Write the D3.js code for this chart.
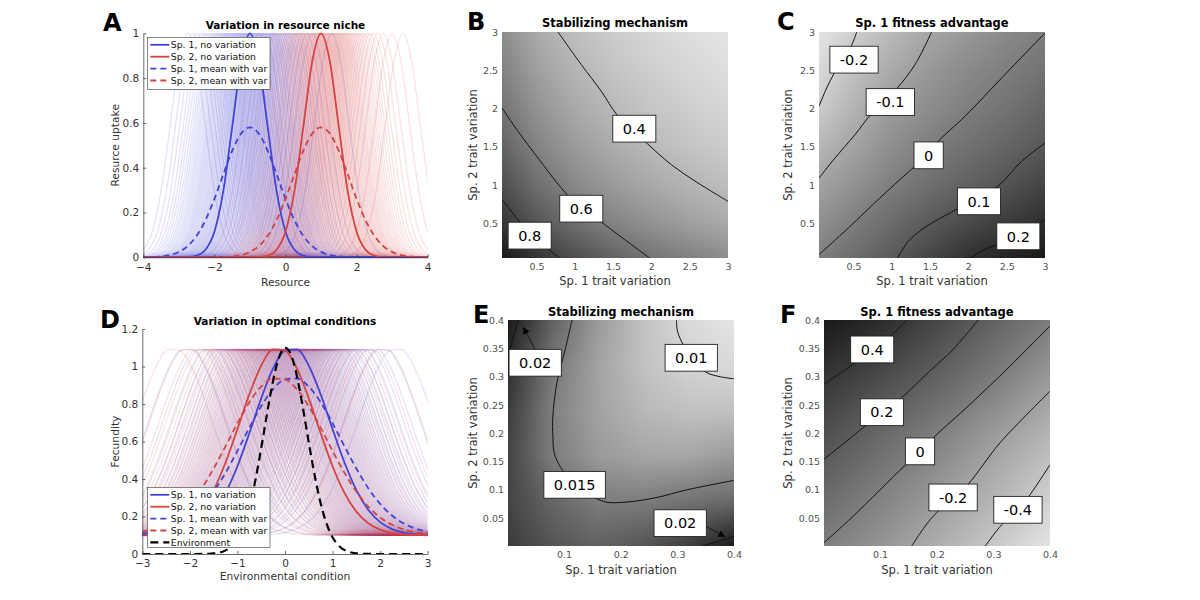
<!DOCTYPE html>
<html>
<head>
<meta charset="utf-8">
<script src="https://cdnjs.cloudflare.com/ajax/libs/d3/7.8.5/d3.min.js"></script>
<style>
  body { margin: 0; background: #fff; }
  svg text { font-family: "DejaVu Sans", sans-serif; }
</style>
</head>
<body>
<script>
// ---- Panel A: variation in resource niche ----
const resourceX = [-4,-3.75,-3.5,-3.25,-3,-2.75,-2.5,-2.25,-2,-1.75,-1.5,-1.25,-1,-0.75,-0.5,-0.25,0,0.25,0.5,0.75,1,1.25,1.5,1.75,2,2.25,2.5,2.75,3,3.25,3.5,3.75,4];
const sp1NoVar = [0,0,0,0,0.0002,0.0013,0.0076,0.0337,0.114,0.295,0.581,0.873,1,0.873,0.581,0.295,0.114,0.0337,0.0076,0.0013,0.0002,0,0,0,0,0,0,0,0,0,0,0,0];
const sp2NoVar = [0,0,0,0,0,0,0,0,0,0,0,0,0.0002,0.0013,0.0076,0.0337,0.114,0.295,0.581,0.873,1,0.873,0.581,0.295,0.114,0.0337,0.0076,0.0013,0.0002,0,0,0,0];
const sp1MeanVar = [0.0004,0.0013,0.004,0.010,0.024,0.050,0.096,0.166,0.261,0.370,0.475,0.552,0.58,0.552,0.475,0.370,0.261,0.166,0.096,0.050,0.024,0.010,0.004,0.0013,0.0004,0,0,0,0,0,0,0,0];
const sp2MeanVar = [0,0,0,0,0,0,0,0,0.0004,0.0013,0.004,0.010,0.024,0.050,0.096,0.166,0.261,0.370,0.475,0.552,0.58,0.552,0.475,0.370,0.261,0.166,0.096,0.050,0.024,0.010,0.004,0.0013,0.0004];
// shifts of individual niche centres around each species' mean
const nicheOffsets = [-1.75,-1.6,-1.48,-1.38,-1.3,-1.23,-1.16,-1.1,-1.05,-1.0,-0.95,-0.91,-0.87,-0.83,-0.79,-0.75,-0.72,-0.69,-0.66,-0.63,-0.6,-0.57,-0.54,-0.51,-0.48,-0.45,-0.42,-0.4,-0.37,-0.34,-0.32,-0.29,-0.27,-0.24,-0.22,-0.19,-0.17,-0.14,-0.12,-0.1,-0.07,-0.05,-0.02,
  0,0.02,0.05,0.07,0.1,0.12,0.14,0.17,0.19,0.22,0.24,0.27,0.29,0.32,0.34,0.37,0.4,0.42,0.45,0.48,0.51,0.54,0.57,0.6,0.63,0.66,0.69,0.72,0.75,0.79,0.83,0.87,0.91,0.95,1.0,1.05,1.1,1.16,1.23,1.3,1.38,1.48,1.6,1.75,2.0,2.3];

// ---- Panel D: variation in optimal conditions ----
const condX = [-3,-2.75,-2.5,-2.25,-2,-1.75,-1.5,-1.25,-1,-0.75,-0.5,-0.25,0,0.25,0.5,0.75,1,1.25,1.5,1.75,2,2.25,2.5,2.75,3];
const dSp1NoVar = [0.100,0.102,0.105,0.112,0.130,0.164,0.226,0.326,0.468,0.644,0.830,0.990,1.085,1.091,1.005,0.851,0.666,0.488,0.341,0.236,0.170,0.133,0.114,0.105,0.102];
const dSp2NoVar = [0.102,0.105,0.114,0.133,0.170,0.236,0.341,0.488,0.666,0.851,1.005,1.091,1.085,0.990,0.830,0.644,0.468,0.326,0.226,0.164,0.130,0.112,0.105,0.102,0.100];
const dSp1MeanVar = [0.108,0.116,0.131,0.156,0.195,0.253,0.333,0.433,0.550,0.673,0.788,0.879,0.931,0.936,0.893,0.809,0.697,0.575,0.456,0.351,0.267,0.205,0.162,0.135,0.118];
const dSp2MeanVar = [0.118,0.135,0.162,0.205,0.267,0.351,0.456,0.575,0.697,0.809,0.893,0.936,0.931,0.879,0.788,0.673,0.550,0.433,0.333,0.253,0.195,0.156,0.131,0.116,0.108];
const envX = [-3,-2.5,-2,-1.6,-1.5,-1.4,-1.3,-1.2,-1.1,-1.0,-0.9,-0.8,-0.7,-0.6,-0.5,-0.4,-0.3,-0.2,-0.1,0,0.1,0.2,0.3,0.4,0.5,0.6,0.7,0.8,0.9,1.0,1.1,1.2,1.3,1.4,1.5,1.6,2,2.5,3];
const envValues = [0,0,0,0.0014,0.0032,0.0067,0.0135,0.0258,0.0467,0.080,0.132,0.205,0.302,0.424,0.565,0.715,0.860,0.982,1.066,1.100,1.077,1.003,0.887,0.745,0.594,0.451,0.325,0.222,0.144,0.089,0.052,0.029,0.0154,0.0078,0.0037,0.0017,0,0,0];
const optimumOffsets = [-2.2,-1.9,-1.7,-1.55,-1.45,-1.35,-1.27,-1.2,-1.13,-1.07,-1.01,-0.96,-0.91,-0.86,-0.82,-0.78,-0.74,-0.7,-0.66,-0.62,-0.59,-0.55,-0.52,-0.48,-0.45,-0.42,-0.39,-0.36,-0.33,-0.3,-0.27,-0.24,-0.21,-0.18,-0.15,-0.12,-0.09,-0.06,-0.03,
  0,0.03,0.06,0.09,0.12,0.15,0.18,0.21,0.24,0.27,0.3,0.33,0.36,0.39,0.42,0.45,0.48,0.52,0.55,0.59,0.62,0.66,0.7,0.74,0.78,0.82,0.86,0.91,0.96,1.01,1.07,1.13,1.2,1.27,1.35,1.45,1.55,1.7,1.9,2.2];

// ---- Panel B: stabilizing mechanism (niche) ----
const bGridX = [0.05,0.5,1,1.5,2,2.5,3];
const bGridZ = [
  [0.972,0.862,0.766,0.689,0.626,0.574,0.530],
  [0.862,0.743,0.645,0.569,0.509,0.461,0.421],
  [0.766,0.645,0.548,0.477,0.422,0.378,0.343],
  [0.689,0.569,0.477,0.410,0.360,0.321,0.289],
  [0.626,0.509,0.422,0.360,0.314,0.278,0.250],
  [0.574,0.461,0.378,0.321,0.278,0.246,0.220],
  [0.530,0.421,0.343,0.289,0.250,0.220,0.197]
];
const bLevels = ["0.4","0.6","0.8"];
const bLines = [
  [[0.781,3],[1.085,2.574],[1.346,2.226],[1.55,1.92],[1.75,1.73],[1.95,1.54],[2.26,1.268],[2.608,1.029],[3,0.79]],
  [[0.05,2.008],[0.259,1.703],[0.52,1.355],[0.824,0.963],[1.085,0.694],[1.346,0.52],[1.564,0.355],[1.977,0.05]],
  [[0.05,0.812],[0.259,0.551],[0.40,0.37],[0.607,0.203],[0.803,0.05]]
];
const bLabelPos = [[1.777,1.738],[1.085,0.694],[0.411,0.342]];

// ---- Panel C: sp. 1 fitness advantage (niche) ----
const cGridX = [0.05,0.5,1,1.5,2,2.5,3];
const cGridZ = [
  [0,0.045,0.092,0.145,0.198,0.23,0.26],
  [-0.045,0,0.05,0.095,0.135,0.17,0.205],
  [-0.092,-0.05,0,0.04,0.075,0.11,0.15],
  [-0.145,-0.095,-0.04,0,0.035,0.065,0.10],
  [-0.198,-0.135,-0.075,-0.035,0,0.03,0.065],
  [-0.23,-0.17,-0.11,-0.065,-0.03,0,0.03],
  [-0.26,-0.205,-0.15,-0.10,-0.065,-0.03,0]
];
const cLevels = ["-0.2","-0.1","0","0.1","0.2"];
const cLines = [
  [[0.05,2.03],[0.15,2.269],[0.25,2.465],[0.346,2.639],[0.468,2.813],[0.542,3]],
  [[0.05,1.094],[0.259,1.355],[0.52,1.66],[0.716,1.912],[0.89,2.086],[1.064,2.26],[1.303,2.574],[1.52,3]],
  [[0.05,0.094],[0.433,0.442],[0.868,0.855],[1.303,1.247],[1.481,1.39],[1.586,1.551],[1.956,1.9],[2.434,2.4],[3,2.987]],
  [[1.077,0.05],[1.216,0.268],[1.434,0.45],[1.80,0.66],[2.138,0.84],[2.4,1.0],[2.695,1.312],[3,1.551]],
  [[2.021,0.05],[2.26,0.181],[2.652,0.333],[3,0.55]]
];
const cLabelPos = [[0.507,2.639],[0.981,2.086],[1.481,1.39],[2.138,0.79],[2.652,0.333]];

// ---- Panel E: stabilizing mechanism (optimum) ----
const eGridX = [0,0.08,0.16,0.24,0.32,0.4];
const eGridZ = [
  [0.019,0.0175,0.0168,0.0175,0.0188,0.021],
  [0.0185,0.0165,0.0152,0.0152,0.0158,0.0163],
  [0.0185,0.0152,0.0135,0.0128,0.0128,0.0135],
  [0.019,0.015,0.013,0.0118,0.0112,0.0112],
  [0.0198,0.0155,0.013,0.0112,0.0102,0.0098],
  [0.021,0.0168,0.0135,0.0112,0.0098,0.0092]
];
const eLevels = ["0.015","0.01","0.02","0.02"];
const eLines = [
  [[0.114,0.4],[0.102,0.348],[0.0873,0.289],[0.0802,0.23],[0.0802,0.195],[0.0844,0.159],[0.1186,0.109],[0.17,0.0796],[0.1994,0.0778],[0.2584,0.0855],[0.3174,0.1003],[0.4,0.1168]],
  [[0.2985,0.4],[0.3009,0.3776],[0.3245,0.3333],[0.3499,0.308],[0.3764,0.2997],[0.4,0.2962]],
  [[0,0.3304],[0.0094,0.3658],[0.0195,0.4]],
  [[0.341,0],[0.4,0.0177]]
];
const eLabelPos = [[0.1186,0.109],[0.3245,0.3333],[0.049,0.3245],[0.305,0.0413]];
const eArrowFrom = [null,null,[0.049,0.348],[0.3457,0.0383]];
const eArrowTo = [null,null,[0.0283,0.3864],[0.3835,0.0177]];

// ---- Panel F: sp. 1 fitness advantage (optimum) ----
const fGridX = [0,0.1,0.2,0.3,0.4];
const fGridZ = [
  [0,-0.13,-0.27,-0.42,-0.58],
  [0.13,0,-0.14,-0.29,-0.45],
  [0.27,0.13,0,-0.16,-0.31],
  [0.42,0.295,0.167,0.02,-0.15],
  [0.58,0.476,0.316,0.16,0.01]
];
const fLevels = ["0.4","0.2","0","-0.2","-0.4"];
const fLines = [
  [[0,0.2861],[0.0519,0.3215],[0.0861,0.348],[0.1215,0.3746],[0.1475,0.4]],
  [[0,0.1534],[0.0696,0.2094],[0.1032,0.2372],[0.1375,0.2625],[0.1876,0.3097],[0.2289,0.3481],[0.2732,0.4]],
  [[0,0.0059],[0.0519,0.0531],[0.1434,0.1428],[0.1705,0.1681],[0.1953,0.1935],[0.2584,0.2507],[0.3233,0.3127],[0.4,0.3894]],
  [[0.1552,0],[0.1906,0.0501],[0.2289,0.0867],[0.2555,0.1103],[0.3115,0.1829],[0.4,0.2743]],
  [[0.285,0],[0.3145,0.0383],[0.3434,0.0649],[0.3646,0.0914],[0.4,0.1445]]
];
const fLabelPos = [[0.0861,0.348],[0.1032,0.2372],[0.1705,0.1681],[0.2289,0.0867],[0.3434,0.0649]];

const legendNames = ["Sp. 1, no variation","Sp. 2, no variation","Sp. 1, mean with var","Sp. 2, mean with var","Environment"];

const blue = "#4343d6";
const red = "#d64343";
const fmt = d3.format("~g");

const svg = d3.select("body").append("svg")
  .attr("width", 1200)
  .attr("height", 600);

const defs = svg.append("defs");
defs.append("marker")
  .attr("id", "arrow")
  .attr("viewBox", "0 0 10 10")
  .attr("refX", 9).attr("refY", 5)
  .attr("markerWidth", 7).attr("markerHeight", 7)
  .attr("markerUnits", "userSpaceOnUse")
  .attr("orient", "auto")
  .append("path")
  .attr("d", "M0,0L10,5L0,10z")
  .attr("fill", "#000");

function addText(g, x, y, str, size, opts = {}) {
  return g.append("text")
    .attr("x", x).attr("y", y)
    .attr("dy", "0.35em")
    .attr("text-anchor", opts.anchor || "middle")
    .attr("font-size", size)
    .attr("font-weight", opts.bold ? "bold" : null)
    .attr("fill", opts.color || "#222")
    .attr("transform", opts.rotate ? `rotate(-90,${x},${y})` : null)
    .text(str);
}

function panelLetter(x, y, str) {
  svg.append("text")
    .attr("x", x).attr("y", y)
    .attr("font-family", "'Liberation Sans', Arial, sans-serif")
    .attr("font-size", 24)
    .attr("font-weight", "bold")
    .attr("fill", "#000")
    .text(str);
}

// ---------- curve panels (A and D) ----------
function curvePanel(p) {
  const x = d3.scaleLinear().domain(p.xDomain).range(p.xRange);
  const y = d3.scaleLinear().domain(p.yDomain).range(p.yRange);
  const g = svg.append("g");

  defs.append("clipPath").attr("id", p.id + "-clip")
    .append("rect")
    .attr("x", p.xRange[0]).attr("y", p.yRange[1] - 2)
    .attr("width", p.xRange[1] - p.xRange[0])
    .attr("height", p.yRange[0] - p.yRange[1] + 2);

  const plot = g.append("g").attr("clip-path", `url(#${p.id}-clip)`);
  const line = d3.line().x(d => x(d[0])).y(d => y(d[1])).curve(d3.curveMonotoneX);
  const pts = (xs, ys) => xs.map((v, i) => [v, ys[i]]);

  // individual variants: the no-variation profile moved to each drawn centre,
  // the two species interleaved so the overlap blends
  const variants = p.offsets.flatMap(off => p.families.map(f => ({ f, off })));
  plot.append("g").selectAll("path")
    .data(variants)
    .join("path")
    .attr("d", d => {
      const a = pts(d.f.xs.map(v => v + d.off), d.f.ys);
      a.unshift([a[0][0] - 4, a[0][1]]);
      a.push([a[a.length - 1][0] + 4, a[a.length - 1][1]]);
      return line(a);
    })
    .attr("fill", "none")
    .attr("stroke", d => d.f.color)
    .attr("stroke-opacity", p.faintOpacity)
    .attr("stroke-width", 1.3);

  p.series.forEach(s => {
    plot.append("path")
      .attr("d", line(pts(s.xs, s.ys)))
      .attr("fill", "none")
      .attr("stroke", s.color)
      .attr("stroke-width", s.width)
      .attr("stroke-dasharray", s.dash);
  });

  const axisColor = "#444";
  const ya = g.append("g")
    .attr("transform", `translate(${p.xRange[0]},0)`)
    .call(d3.axisLeft(y).tickValues(p.yTicks).tickFormat(fmt).tickSizeInner(-3).tickSizeOuter(0).tickPadding(4));
  const xa = g.append("g")
    .attr("transform", `translate(0,${p.yRange[0]})`)
    .call(d3.axisBottom(x).tickValues(p.xTicks).tickFormat(fmt).tickSizeInner(-3).tickSizeOuter(0).tickPadding(6));
  [ya, xa].forEach(a => {
    a.select(".domain").attr("stroke", axisColor).attr("stroke-width", 0.8);
    a.selectAll(".tick line").attr("stroke", axisColor).attr("stroke-width", 0.8);
    a.selectAll(".tick text")
      .attr("font-family", "'DejaVu Sans', sans-serif")
      .attr("font-size", 10.5)
      .attr("fill", "#333");
  });

  const cx = (p.xRange[0] + p.xRange[1]) / 2;
  const cy = (p.yRange[0] + p.yRange[1]) / 2;
  addText(g, cx, p.titleY, p.title, 10.5, { bold: true, color: "#000" });
  addText(g, cx, p.xLabelY, p.xLabel, 10.7, { color: "#333" });
  addText(g, p.yLabelX, cy, p.yLabel, 10.7, { color: "#333", rotate: true });

  // legend
  const lg = g.append("g");
  lg.append("rect")
    .attr("x", p.legend.x).attr("y", p.legend.y)
    .attr("width", p.legend.w).attr("height", p.legend.h)
    .attr("fill", "#fff").attr("stroke", "#333").attr("stroke-width", 0.6);
  p.series.forEach((s, i) => {
    const ly = p.legend.y + 7.5 + i * 11.9;
    lg.append("line")
      .attr("x1", p.legend.x + 3).attr("x2", p.legend.x + 22)
      .attr("y1", ly).attr("y2", ly)
      .attr("stroke", s.color).attr("stroke-width", s.width)
      .attr("stroke-dasharray", s.dash);
    addText(lg, p.legend.x + 23.5, ly, legendNames[i], 9.3, { anchor: "start", color: "#111" });
  });
}

curvePanel({
  id: "pa",
  xDomain: [-4, 4], xRange: [143.3, 427.7],
  yDomain: [0, 1], yRange: [257.3, 33.3],
  xTicks: [-4, -2, 0, 2, 4], yTicks: [0, 0.2, 0.4, 0.6, 0.8, 1],
  faintOpacity: 0.15,
  offsets: nicheOffsets,
  families: [
    { xs: resourceX, ys: sp1NoVar, color: blue },
    { xs: resourceX, ys: sp2NoVar, color: red }
  ],
  series: [
    { xs: resourceX, ys: sp1NoVar, color: blue, width: 1.8, dash: null },
    { xs: resourceX, ys: sp2NoVar, color: red, width: 1.8, dash: null },
    { xs: resourceX, ys: sp1MeanVar, color: blue, width: 1.8, dash: "6,4" },
    { xs: resourceX, ys: sp2MeanVar, color: red, width: 1.8, dash: "6,4" }
  ],
  title: "Variation in resource niche", titleY: 25,
  xLabel: "Resource", xLabelY: 282.7,
  yLabel: "Resurce uptake", yLabelX: 115,
  legend: { x: 147.3, y: 37.3, w: 122.7, h: 52 }
});

curvePanel({
  id: "pd",
  xDomain: [-3, 3], xRange: [142.3, 427.7],
  yDomain: [0, 1.2], yRange: [554, 329],
  xTicks: [-3, -2, -1, 0, 1, 2, 3], yTicks: [0, 0.2, 0.4, 0.6, 0.8, 1, 1.2],
  faintOpacity: 0.14,
  offsets: optimumOffsets,
  families: [
    { xs: condX, ys: dSp1NoVar, color: blue },
    { xs: condX, ys: dSp2NoVar, color: red }
  ],
  series: [
    { xs: condX, ys: dSp1NoVar, color: blue, width: 1.8, dash: null },
    { xs: condX, ys: dSp2NoVar, color: red, width: 1.8, dash: null },
    { xs: condX, ys: dSp1MeanVar, color: blue, width: 1.8, dash: "6,4" },
    { xs: condX, ys: dSp2MeanVar, color: red, width: 1.8, dash: "6,4" },
    { xs: envX, ys: envValues, color: "#000", width: 2.2, dash: "8,5" }
  ],
  title: "Variation in optimal conditions", titleY: 321.7,
  xLabel: "Environmental condition", xLabelY: 576.7,
  yLabel: "Fecundity", yLabelX: 115,
  legend: { x: 147.3, y: 487.3, w: 122.7, h: 60 }
});

// ---------- contour panels (B, C, E, F) ----------
function shade(g, xs, z, x, y, gray) {
  const [x0, x1] = x.range();
  const [y1, y0] = y.range();
  const w = Math.round(x1 - x0), h = Math.round(y1 - y0);
  const canvas = document.createElement("canvas");
  canvas.width = w; canvas.height = h;
  const ctx = canvas.getContext("2d");
  const img = ctx.createImageData(w, h);
  const idx = d3.scaleLinear().domain(xs).range(d3.range(xs.length)).clamp(true);
  const n = xs.length;
  for (let r = 0; r < h; r++) {
    const fy = idx(y.invert(y0 + r + 0.5));
    const j = Math.min(Math.floor(fy), n - 2), ty = fy - j;
    for (let c = 0; c < w; c++) {
      const fx = idx(x.invert(x0 + c + 0.5));
      const i = Math.min(Math.floor(fx), n - 2), tx = fx - i;
      const v = (z[j][i] * (1 - tx) + z[j][i + 1] * tx) * (1 - ty) +
                (z[j + 1][i] * (1 - tx) + z[j + 1][i + 1] * tx) * ty;
      const k = (r * w + c) * 4;
      const gv = Math.round(gray(v));
      img.data[k] = gv; img.data[k + 1] = gv; img.data[k + 2] = gv; img.data[k + 3] = 255;
    }
  }
  ctx.putImageData(img, 0, 0);
  g.append("image")
    .attr("x", x0).attr("y", y0)
    .attr("width", w).attr("height", h)
    .attr("preserveAspectRatio", "none")
    .attr("href", canvas.toDataURL());
}

function contourPanel(p) {
  const x = d3.scaleLinear().domain(p.domain).range([p.left, p.left + p.size]);
  const y = d3.scaleLinear().domain(p.domain).range([p.top + p.size, p.top]);
  const g = svg.append("g");

  const zs = p.grid.flat();
  const gray = d3.scaleLinear().domain(d3.extent(zs)).range([228, 24]);
  shade(g, p.gridX, p.grid, x, y, gray);

  defs.append("clipPath").attr("id", p.id + "-clip")
    .append("rect")
    .attr("x", p.left).attr("y", p.top)
    .attr("width", p.size).attr("height", p.size);

  const line = d3.line().x(d => x(d[0])).y(d => y(d[1])).curve(d3.curveCatmullRom);
  g.append("g").attr("clip-path", `url(#${p.id}-clip)`)
    .selectAll("path")
    .data(p.lines)
    .join("path")
    .attr("d", line)
    .attr("fill", "none")
    .attr("stroke", "#111")
    .attr("stroke-width", 1);

  if (p.arrowFrom) {
    p.arrowFrom.forEach((a, i) => {
      if (!a) return;
      g.append("line")
        .attr("x1", x(a[0])).attr("y1", y(a[1]))
        .attr("x2", x(p.arrowTo[i][0])).attr("y2", y(p.arrowTo[i][1]))
        .attr("stroke", "#111").attr("stroke-width", 0.9)
        .attr("marker-end", "url(#arrow)");
    });
  }

  p.levels.forEach((lab, i) => {
    const pos = p.labelPos[i];
    const lgp = g.append("g").attr("transform", `translate(${x(pos[0])},${y(pos[1])})`);
    const t = lgp.append("text")
      .attr("text-anchor", "middle")
      .attr("dy", "0.36em")
      .attr("font-family", "'Liberation Sans', Arial, sans-serif")
      .attr("font-size", 14.5)
      .attr("fill", "#000")
      .text(lab);
    const tw = t.node().getComputedTextLength();
    lgp.insert("rect", "text")
      .attr("x", -tw / 2 - 10).attr("y", -13.4)
      .attr("width", tw + 20).attr("height", 26.8)
      .attr("fill", "#fff").attr("stroke", "#222").attr("stroke-width", 0.9);
  });

  const xa = g.append("g")
    .attr("transform", `translate(0,${p.top + p.size})`)
    .call(d3.axisBottom(x).tickValues(p.ticksX).tickFormat(fmt).tickSize(0).tickPadding(5));
  const ya = g.append("g")
    .attr("transform", `translate(${p.left},0)`)
    .call(d3.axisLeft(y).tickValues(p.ticksY).tickFormat(fmt).tickSize(0).tickPadding(4));
  [xa, ya].forEach(a => {
    a.select(".domain").remove();
    a.selectAll(".tick text")
      .attr("font-family", "'DejaVu Sans', sans-serif")
      .attr("font-size", 9.5)
      .attr("fill", "#505050");
  });

  const cx = p.left + p.size / 2;
  const cy = p.top + p.size / 2;
  addText(g, cx, p.titleY, p.title, 11.5, { bold: true, color: "#000" });
  addText(g, cx, p.xLabelY, "Sp. 1 trait variation", 11.5, { color: "#333" });
  addText(g, p.yLabelX, cy, "Sp. 2 trait variation", 11.5, { color: "#333", rotate: true });
}

const bigTicks = [0.5, 1, 1.5, 2, 2.5, 3];
const smallTicksX = [0.1, 0.2, 0.3, 0.4];
const smallTicksY = [0.05, 0.1, 0.15, 0.2, 0.25, 0.3, 0.35, 0.4];

contourPanel({
  id: "pb", left: 502, top: 32, size: 226, domain: [0.05, 3],
  gridX: bGridX, grid: bGridZ, lines: bLines, levels: bLevels, labelPos: bLabelPos,
  ticksX: bigTicks, ticksY: bigTicks,
  title: "Stabilizing mechanism", titleY: 22.7, xLabelY: 280.7, yLabelX: 473
});
contourPanel({
  id: "pc", left: 819, top: 32, size: 226, domain: [0.05, 3],
  gridX: cGridX, grid: cGridZ, lines: cLines, levels: cLevels, labelPos: cLabelPos,
  ticksX: bigTicks, ticksY: bigTicks,
  title: "Sp. 1 fitness advantage", titleY: 22.7, xLabelY: 280.7, yLabelX: 788
});
contourPanel({
  id: "pe", left: 508, top: 320, size: 226, domain: [0.001, 0.4],
  gridX: eGridX, grid: eGridZ, lines: eLines, levels: eLevels, labelPos: eLabelPos,
  arrowFrom: eArrowFrom, arrowTo: eArrowTo,
  ticksX: smallTicksX, ticksY: smallTicksY,
  title: "Stabilizing mechanism", titleY: 311.7, xLabelY: 570, yLabelX: 473
});
contourPanel({
  id: "pf", left: 824, top: 320, size: 226, domain: [0.001, 0.4],
  gridX: fGridX, grid: fGridZ, lines: fLines, levels: fLevels, labelPos: fLabelPos,
  ticksX: smallTicksX, ticksY: smallTicksY,
  title: "Sp. 1 fitness advantage", titleY: 311.7, xLabelY: 570, yLabelX: 788
});

panelLetter(103, 31, "A");
panelLetter(467, 30, "B");
panelLetter(777, 30, "C");
panelLetter(100, 328, "D");
panelLetter(473, 323, "E");
panelLetter(780, 323, "F");
</script>
</body>
</html>
